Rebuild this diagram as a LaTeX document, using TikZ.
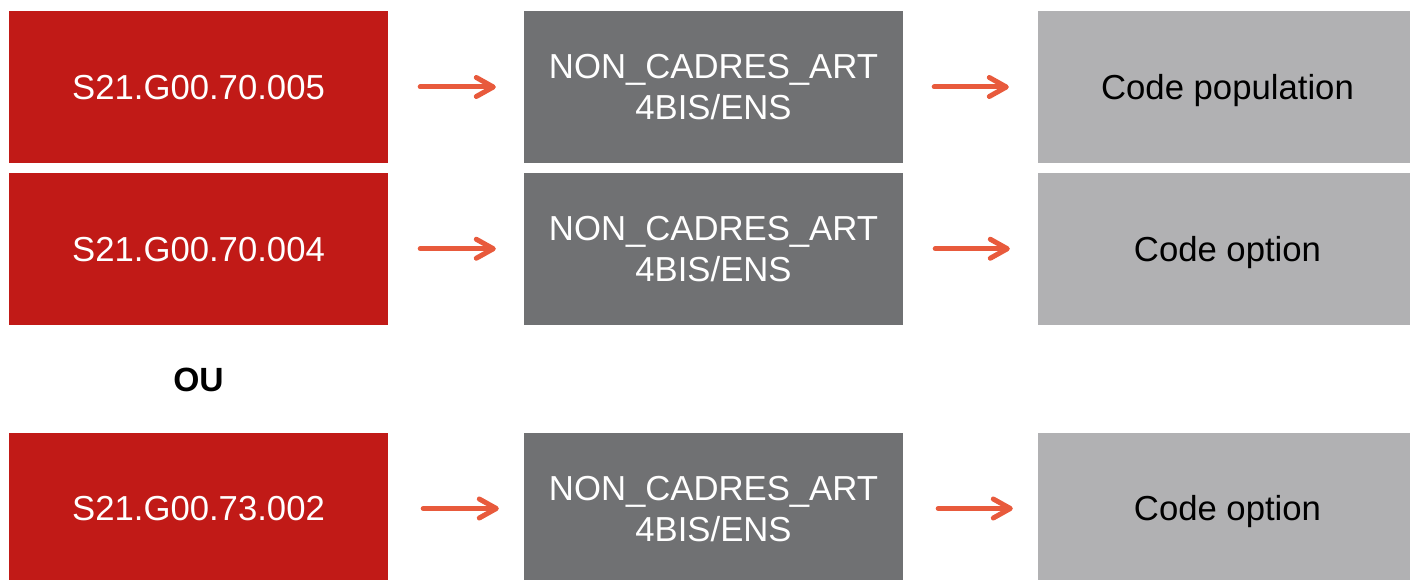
\documentclass[tikz,border=0pt]{standalone}
\usepackage{fontspec}
\setmainfont{Liberation Sans}
\usetikzlibrary{arrows.meta}
\definecolor{boxred}{HTML}{C11A17}
\definecolor{boxdark}{HTML}{707173}
\definecolor{boxlight}{HTML}{B1B1B3}
\definecolor{arrowc}{HTML}{E85A3C}
\tikzset{
  basebox/.style={rectangle, inner sep=0pt, minimum width=379pt, minimum height=151.5pt, align=center,
    text height=24.8pt, text depth=0pt,
    font=\fontsize{34.7}{41}\selectfont},
  redbox/.style={basebox, fill=boxred, text=white},
  darkbox/.style={basebox, fill=boxdark, text=white, text height=65.8pt},
  lightbox/.style={basebox, fill=boxlight, text=black},
  flow/.style={draw=arrowc, line width=5pt, line cap=round,
    -{Straight Barb[length=17pt,width=19pt,line cap=round,line join=round]}}
}
\begin{document}
\begin{tikzpicture}[x=1pt,y=-1pt]
\useasboundingbox (0,0) rectangle (1410,580);
\clip (0,0) rectangle (1410,580);
% row 1
\node[redbox]   (r1) at (198.5,87) {S21.G00.70.005};
\node[darkbox]  (d1) at (713.5,87) {NON\_CADRES\_ART\\4BIS/ENS};
\node[lightbox] (l1) at (1227.5,87) {Code population};
% row 2
\node[redbox]   (r2) at (198.5,248.75) {S21.G00.70.004};
\node[darkbox]  (d2) at (713.5,248.75) {NON\_CADRES\_ART\\4BIS/ENS};
\node[lightbox] (l2) at (1227.5,248.75) {Code option};
% OU
\node[font=\fontsize{33.6}{41}\selectfont\bfseries] (ou) at (198.5,380) {OU};
% row 3
\node[redbox]   (r3) at (198.5,508.5) {S21.G00.73.002};
\node[darkbox]  (d3) at (713.5,508.5) {NON\_CADRES\_ART\\4BIS/ENS};
\node[lightbox] (l3) at (1227.5,508.5) {Code option};
% arrows
\draw[flow, shorten <=32pt, shorten >=28pt] (r1.east) -- (d1.west);
\draw[flow, shorten <=31pt, shorten >=29pt] (d1.east) -- (l1.west);
\draw[flow, shorten <=32pt, shorten >=28pt] (r2.east) -- (d2.west);
\draw[flow, shorten <=32pt, shorten >=28pt] (d2.east) -- (l2.west);
\draw[flow, shorten <=35pt, shorten >=25pt] (r3.east) -- (d3.west);
\draw[flow, shorten <=35pt, shorten >=25pt] (d3.east) -- (l3.west);
\end{tikzpicture}
\end{document}
